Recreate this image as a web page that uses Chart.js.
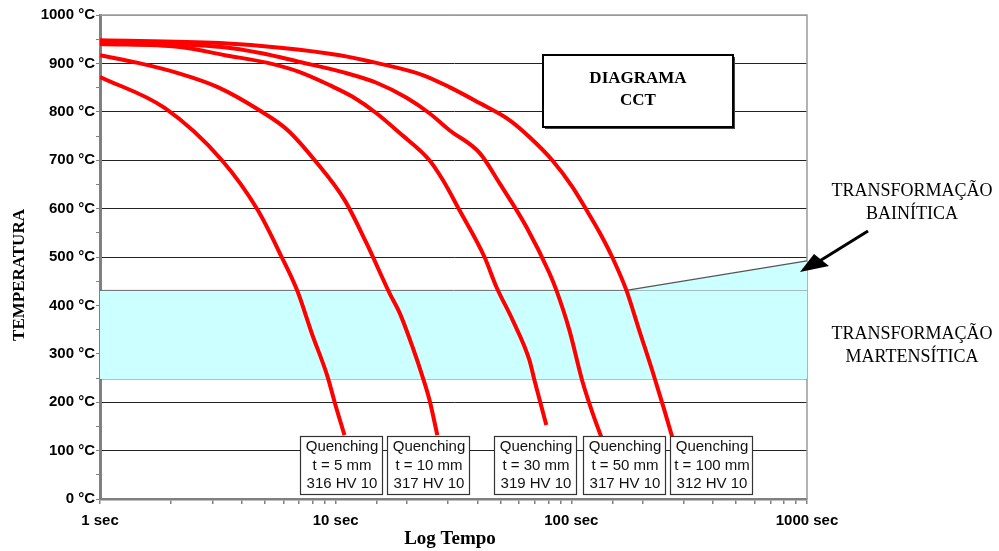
<!DOCTYPE html>
<html><head><meta charset="utf-8">
<script src="https://cdn.jsdelivr.net/npm/chart.js@4/dist/chart.umd.min.js"></script>
<style>html,body{margin:0;padding:0;background:#fff}canvas{display:block}</style>
</head><body>
<canvas id="c" width="999" height="551"></canvas>
<script>
// ---- data (seconds, °C) ----
const q5Time   = [1, 1.88, 3.29, 4.67, 5.90, 6.90, 7.91, 9.25, 9.90, 10.9];
const q5Temp   = [872, 808, 700, 597, 500, 428, 343, 252, 200, 132];
const q10Time  = [1, 1.45, 2.14, 3.16, 4.86, 6.26, 8.15, 10.9, 13.5, 16.9, 18.7, 21.2, 23.4, 25.0, 27.0];
const q10Temp  = [917, 901, 880, 851, 800, 762, 700, 618, 529, 426, 384, 314, 252, 205, 132];
const q30Time  = [1, 2.18, 3.39, 5.15, 7.04, 9.43, 11.8, 14.9, 18.7, 25.0, 28.5, 33.5, 42.8, 48.1, 56.3, 66.4, 69.7, 78.3];
const q30Temp  = [940, 934, 917, 901, 882, 855, 831, 797, 756, 700, 659, 597, 500, 438, 370, 287, 246, 153];
const q50Time  = [1, 3.29, 4.86, 7.04, 10.7, 14.9, 20.0, 25.0, 30.4, 40.8, 49.5, 64.5, 80.7, 86.3, 98.1, 111, 123, 134];
const q50Temp  = [945, 934, 921, 903, 882, 860, 829, 797, 762, 715, 653, 562, 467, 432, 349, 246, 178, 128];
const q100Time = [1, 3.22, 5.96, 10.4, 14.9, 23.4, 30.4, 40.8, 54.6, 66.4, 83.0, 101, 116, 132, 149, 171, 194, 220, 248, 268];
const q100Temp = [948, 942, 932, 917, 901, 876, 851, 818, 783, 748, 700, 645, 597, 550, 500, 432, 349, 267, 184, 128];

const martensiteRange = [248, 431];          // band bottom / top (°C)
const bainiteEdgeTime = [171, 1000];
const bainiteEdgeTemp = [431, 492];
const axisTimeRange = [1, 1000];

const yTickLabelSuffix = ' °C';
const xTickLabels = {1: '1 sec', 10: '10 sec', 100: '100 sec', 1000: '1000 sec'};

const boxTitle = 'Quenching';
const boxThickness = ['t = 5 mm', 't = 10 mm', 't = 30 mm', 't = 50 mm', 't = 100 mm'];
const boxHardness  = ['316 HV 10', '317 HV 10', '319 HV 10', '317 HV 10', '312 HV 10'];

// ---- layout (pixels) ----
const boxLeftPx = [300, 387, 494, 583, 670];
const BOX_W = 82, BOX_TOP = 436, BOX_H = 58;

function pts(tx, ty) { return tx.map((t, i) => ({x: t, y: ty[i]})); }
const RED = '#ff0000', CYAN = '#ccffff';

function curve(tx, ty) {
  return {data: pts(tx, ty), borderColor: RED, borderWidth: 4, pointRadius: 0,
          cubicInterpolationMode: 'monotone', fill: false, order: 0};
}

const datasets = [
  {data: pts(axisTimeRange, [martensiteRange[1], martensiteRange[1]]), borderColor: '#6a6a6a', borderWidth: 1,
   backgroundColor: CYAN, fill: '+1', pointRadius: 0, order: 10},
  {data: pts(axisTimeRange, [martensiteRange[0], martensiteRange[0]]), borderColor: '#6a6a6a', borderWidth: 1,
   fill: false, pointRadius: 0, order: 10},
  {data: pts(bainiteEdgeTime, bainiteEdgeTemp), borderColor: '#555', borderWidth: 1.3,
   backgroundColor: CYAN, fill: {value: martensiteRange[1]}, pointRadius: 0, order: 9},
  curve(q5Time, q5Temp),
  curve(q10Time, q10Temp),
  curve(q30Time, q30Temp),
  curve(q50Time, q50Temp),
  curve(q100Time, q100Temp)
];

const overlay = {
  id: 'overlay',
  beforeDatasetsDraw(chart) {
    const {ctx, chartArea: a} = chart;
    ctx.save();
    ctx.strokeStyle = '#9a9a9a'; ctx.lineWidth = 1.5;
    ctx.beginPath();
    ctx.moveTo(a.left, a.top); ctx.lineTo(a.right, a.top); ctx.lineTo(a.right, a.bottom);
    ctx.stroke();
    ctx.restore();
  },
  afterDraw(chart) {
    const {ctx} = chart;
    ctx.save();
    // Quenching boxes
    ctx.textAlign = 'center'; ctx.textBaseline = 'middle';
    boxLeftPx.forEach((x, i) => {
      ctx.fillStyle = '#fff';
      ctx.fillRect(x, BOX_TOP, BOX_W, BOX_H);
      ctx.strokeStyle = '#333'; ctx.lineWidth = 1.2;
      ctx.strokeRect(x + 0.5, BOX_TOP + 0.5, BOX_W, BOX_H);
      ctx.fillStyle = '#111';
      ctx.font = '15px "Liberation Sans", Arial, sans-serif';
      const cx = x + BOX_W / 2 + 1;
      ctx.fillText(boxTitle, cx, BOX_TOP + 11);
      ctx.fillText(boxThickness[i], cx, BOX_TOP + 30);
      ctx.fillText(boxHardness[i], cx, BOX_TOP + 48);
    });
    // DIAGRAMA CCT box
    ctx.fillStyle = '#444';
    ctx.fillRect(545, 57, 190, 72);
    ctx.fillStyle = '#fff';
    ctx.fillRect(543, 55, 190, 72);
    ctx.strokeStyle = '#000'; ctx.lineWidth = 2;
    ctx.strokeRect(543, 55, 190, 72);
    ctx.fillStyle = '#000';
    ctx.font = 'bold 17px "Liberation Serif", "Times New Roman", serif';
    ctx.fillText('DIAGRAMA', 638, 79);
    ctx.fillText('CCT', 638, 101);
    // right-side annotations
    ctx.font = '18px "Liberation Serif", "Times New Roman", serif';
    ctx.fillText('TRANSFORMAÇÃO', 912, 191);
    ctx.fillText('BAINÍTICA', 912, 214);
    ctx.fillText('TRANSFORMAÇÃO', 912, 334);
    ctx.fillText('MARTENSÍTICA', 912, 357);
    // arrow
    ctx.strokeStyle = '#000'; ctx.lineWidth = 3;
    ctx.beginPath(); ctx.moveTo(868, 231); ctx.lineTo(818, 262); ctx.stroke();
    ctx.fillStyle = '#000';
    ctx.beginPath(); ctx.moveTo(800, 272); ctx.lineTo(814, 254); ctx.lineTo(829, 266); ctx.closePath(); ctx.fill();
    // axis titles
    ctx.font = 'bold 19px "Liberation Serif", "Times New Roman", serif';
    ctx.fillText('Log Tempo', 450, 539);
    ctx.save();
    ctx.translate(20, 275); ctx.rotate(-Math.PI / 2);
    ctx.font = 'bold 17px "Liberation Serif", "Times New Roman", serif';
    ctx.fillText('TEMPERATURA', 0, 0);
    ctx.restore();
    ctx.restore();
  }
};

new Chart(document.getElementById('c'), {
  type: 'line',
  data: {datasets},
  plugins: [overlay],
  options: {
    responsive: false, animation: false,
    layout: {padding: {left: 0, right: 192, top: 15, bottom: 0}},
    plugins: {legend: {display: false}, tooltip: {enabled: false}},
    scales: {
      x: {
        type: 'logarithmic', min: axisTimeRange[0], max: axisTimeRange[1],
        afterFit(s) { s.height = 52; },
        border: {color: '#808080', width: 2.5},
        grid: {drawOnChartArea: false, tickLength: 5, tickColor: '#808080', lineWidth: 1.5},
        ticks: {
          autoSkip: false, maxRotation: 0, padding: 8, color: '#000',
          font: {family: '"Liberation Sans", Arial, sans-serif', weight: 'bold', size: 15},
          callback: (v) => xTickLabels[v] || ''
        }
      },
      y: {
        type: 'linear', min: 0, max: 1000,
        afterFit(s) { s.width = 100; },
        border: {color: '#808080', width: 3},
        grid: {
          tickLength: 4, tickColor: '#808080', lineWidth: 1,
          color: (c) => {
            const v = c.tick ? c.tick.value : null;
            if (v === null || v % 100 !== 0) return 'rgba(0,0,0,0)';
            if (v === 0 || v === 1000) return '#9a9a9a';
            return '#222';
          }
        },
        ticks: {
          stepSize: 50, padding: 1, color: '#000',
          font: {family: '"Liberation Sans", Arial, sans-serif', weight: 'bold', size: 15},
          callback: (v) => (v % 100 === 0 ? v + yTickLabelSuffix : '')
        }
      }
    }
  }
});
</script>
</body></html>
